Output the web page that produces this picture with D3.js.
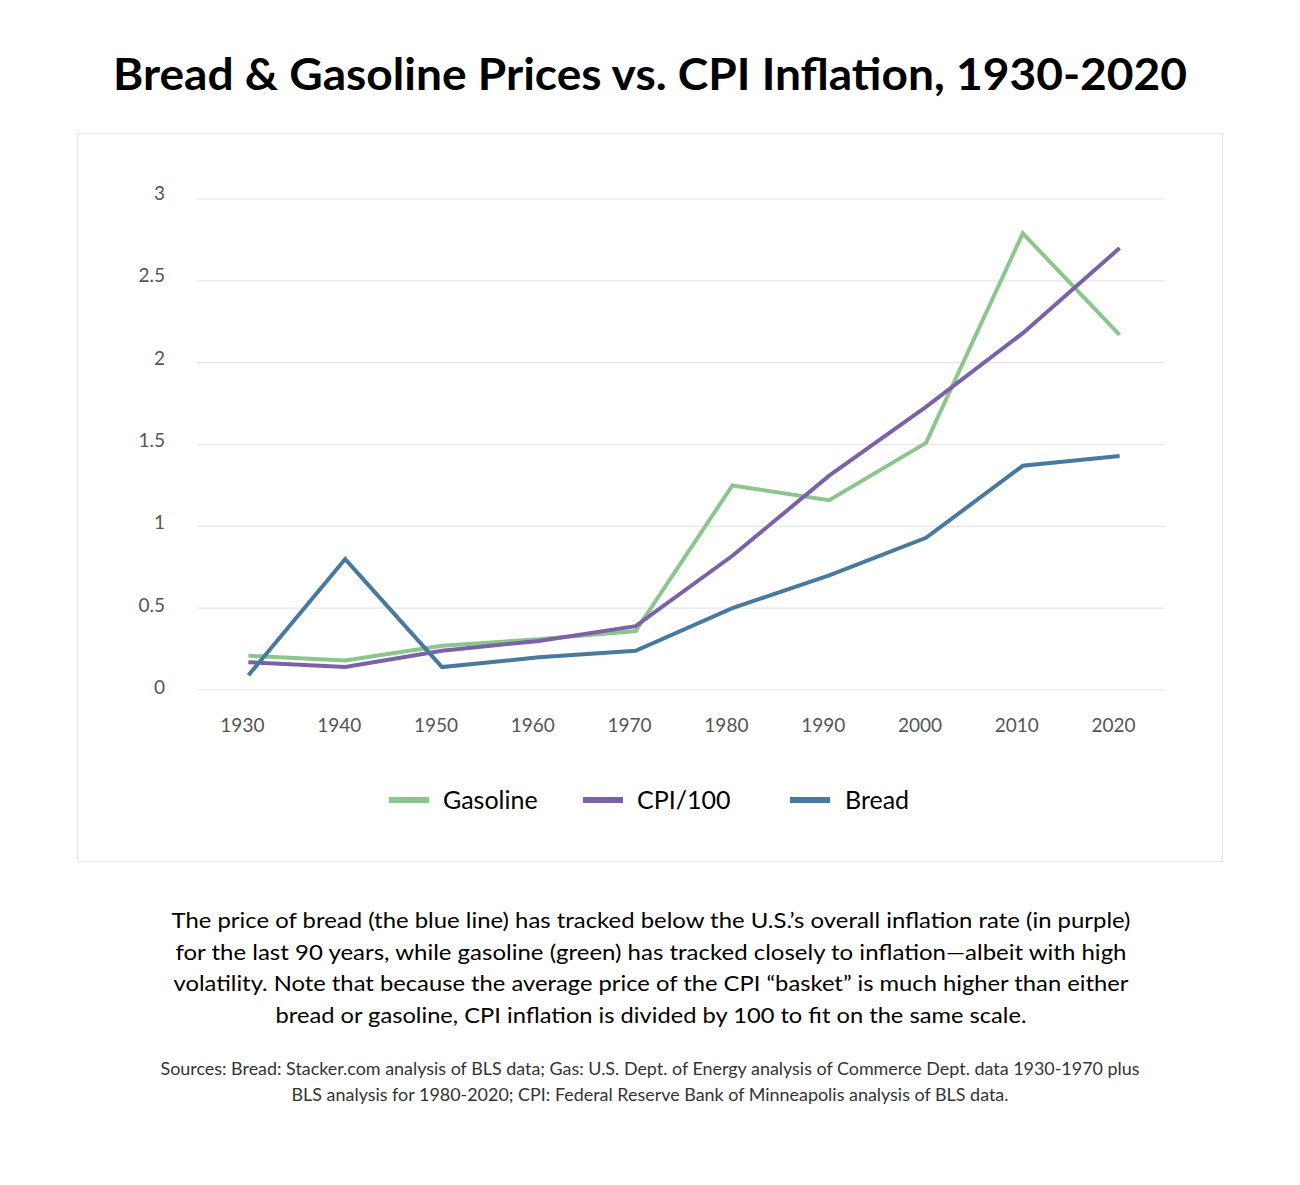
<!DOCTYPE html>
<html>
<head>
<meta charset="utf-8">
<script src="https://cdn.jsdelivr.net/npm/d3@7"></script>
<style>
  body { margin: 0; background: #fff; }
  svg text { font-family: Lato, "Open Sans", sans-serif; }
</style>
</head>
<body>
<svg id="chart" width="1300" height="1185"></svg>
<script>
var years = ["1930", "1940", "1950", "1960", "1970", "1980", "1990", "2000", "2010", "2020"];
var gasoline = [0.21, 0.18, 0.27, 0.31, 0.36, 1.25, 1.16, 1.51, 2.79, 2.17];
var cpi = [0.17, 0.14, 0.24, 0.30, 0.39, 0.82, 1.31, 1.73, 2.18, 2.70];
var bread = [0.09, 0.80, 0.14, 0.20, 0.24, 0.50, 0.70, 0.93, 1.37, 1.43];
var yTicks = [0, 0.5, 1, 1.5, 2, 2.5, 3];

var seriesNames = ["Gasoline", "CPI/100", "Bread"];
var seriesColors = ["#8dc58e", "#7b62a8", "#48799f"];

var captionLines = [
    "The price of bread (the blue line) has tracked below the U.S.\u2019s overall inflation rate (in purple)",
    "for the last 90 years, while gasoline (green) has tracked closely to inflation\u2014albeit with high",
    "volatility. Note that because the average price of the CPI \u201cbasket\u201d is much higher than either",
    "bread or gasoline, CPI inflation is divided by 100 to fit on the same scale."
];
var captionWidths = [959, 951, 955, 751];
var sourceLines = [
    "Sources: Bread: Stacker.com analysis of BLS data; Gas: U.S. Dept. of Energy analysis of Commerce Dept. data 1930-1970 plus",
    "BLS analysis for 1980-2020; CPI: Federal Reserve Bank of Minneapolis analysis of BLS data."
];
var sourceWidths = [979, 717];

var svg = d3.select("#chart");

svg.append("text")
    .attr("x", 650).attr("y", 90)
    .attr("text-anchor", "middle")
    .attr("font-size", 44).attr("font-weight", 700)
    .attr("fill", "#000")
    .attr("textLength", 1074).attr("lengthAdjust", "spacingAndGlyphs")
    .text("Bread & Gasoline Prices vs. CPI Inflation, 1930-2020");

// frame around the chart
svg.append("rect")
    .attr("x", 77.5).attr("y", 133.5).attr("width", 1145).attr("height", 728)
    .attr("fill", "#fff").attr("stroke", "#e6e6e6");

var x = d3.scaleBand().domain(years).range([197, 1165]);
var y = d3.scaleLinear().domain([0, 3]).range([690, 199]);

var grid = svg.append("g");
grid.selectAll("line").data(yTicks).enter().append("line")
    .attr("x1", 197).attr("x2", 1165)
    .attr("y1", function (d) { return y(d); })
    .attr("y2", function (d) { return y(d); })
    .attr("stroke", "#e6e6e6").attr("stroke-width", 1.2);

var yAxis = svg.append("g")
    .attr("transform", "translate(165,0)")
    .call(d3.axisLeft(y).tickValues(yTicks).tickSize(0).tickPadding(0).tickFormat(d3.format("")));
yAxis.select(".domain").remove();
yAxis.selectAll("text").attr("font-size", 19).attr("fill", "#555")
    .attr("dy", function (d) { return (0.05 + d * 0.0) + "em"; })
    .attr("y", function (d) { return 3 - d * 1.3; })
    .style("font-family", "Lato, 'Open Sans', sans-serif");

var xAxis = svg.append("g")
    .attr("transform", "translate(-3,718)")
    .call(d3.axisBottom(x).tickSize(0).tickPadding(0));
xAxis.select(".domain").remove();
xAxis.selectAll("text").attr("font-size", 19).attr("fill", "#555")
    .style("font-family", "Lato, 'Open Sans', sans-serif");

var line = d3.line()
    .x(function (d, i) { return x(years[i]) + x.bandwidth() / 2 + 3; })
    .y(function (d) { return y(d); });

var allSeries = [gasoline, cpi, bread];
svg.append("g").selectAll("path").data(allSeries).enter().append("path")
    .attr("d", line)
    .attr("fill", "none")
    .attr("stroke", function (d, i) { return seriesColors[i]; })
    .attr("stroke-width", 4)
    .attr("stroke-linejoin", "miter");

// legend
var legendX = [389, 583, 790];
var legend = svg.append("g").selectAll("g").data(seriesNames).enter().append("g")
    .attr("transform", function (d, i) { return "translate(" + legendX[i] + ",800)"; });
legend.append("rect")
    .attr("x", 0).attr("y", -3).attr("width", 40).attr("height", 6)
    .attr("fill", function (d, i) { return seriesColors[i]; });
legend.append("text")
    .attr("x", function (d, i) { return i == 2 ? 55 : 54; })
    .attr("y", 9)
    .attr("font-size", 25).attr("fill", "#000")
    .text(String);

// caption and sources
svg.append("g").selectAll("text").data(captionLines).enter().append("text")
    .attr("x", 651).attr("y", function (d, i) { return 928 + i * 31.5; })
    .attr("text-anchor", "middle")
    .attr("font-size", 22).attr("fill", "#000")
    .attr("textLength", function (d, i) { return captionWidths[i]; })
    .attr("lengthAdjust", "spacingAndGlyphs")
    .text(String);

svg.append("g").selectAll("text").data(sourceLines).enter().append("text")
    .attr("x", 650).attr("y", function (d, i) { return 1075 + i * 26; })
    .attr("text-anchor", "middle")
    .attr("font-size", 17).attr("fill", "#333")
    .attr("textLength", function (d, i) { return sourceWidths[i]; })
    .attr("lengthAdjust", "spacingAndGlyphs")
    .text(String);
</script>
</body>
</html>
